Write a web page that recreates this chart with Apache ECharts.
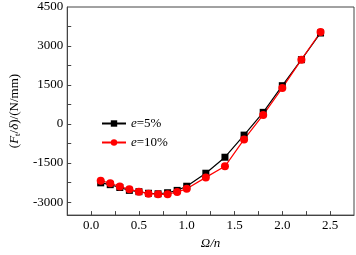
<!DOCTYPE html>
<html>
<head>
<meta charset="utf-8">
<script src="https://cdn.jsdelivr.net/npm/echarts@6/dist/echarts.min.js"></script>
<style>
  html, body { margin: 0; padding: 0; background: #fff; }
  #chart { width: 356px; height: 255px; }
</style>
</head>
<body>
<div id="chart"></div>
<script>
// Omega/n values
const xValues = [0.1, 0.2, 0.3, 0.4, 0.5, 0.6, 0.7, 0.8, 0.9, 1.0, 1.2, 1.4, 1.6, 1.8, 2.0, 2.2, 2.4];
// e = 5%
const e5 = [-2260, -2330, -2440, -2550, -2600, -2660, -2680, -2640, -2550, -2390, -1890, -1275, -425, 450, 1475, 2475, 3500];
// e = 10%
const e10 = [-2175, -2275, -2400, -2510, -2600, -2675, -2700, -2700, -2610, -2490, -2050, -1625, -590, 350, 1390, 2475, 3540];

const xLabels = [0, 0.5, 1.0, 1.5, 2.0, 2.5];
const xTicks = [0, 0.25, 0.5, 0.75, 1.0, 1.25, 1.5, 1.75, 2.0, 2.25, 2.5];
const yLabels = [-3000, -1500, 0, 1500, 3000, 4500];
const yTicks = [-3000, -2250, -1500, -750, 0, 750, 1500, 2250, 3000, 3750];

const FONT = "'Liberation Serif', 'DejaVu Serif', serif";
const axisColor = "#444";

const chart = echarts.init(document.getElementById("chart"), null, { renderer: "canvas" });

const baseX = {
  type: "value",
  position: "bottom",
  min: -0.25,
  max: 2.75,
  splitLine: { show: false },
  axisLine: { show: true, onZero: false, lineStyle: { color: axisColor, width: 1 } },
};
const baseY = {
  type: "value",
  position: "left",
  min: -3500,
  max: 4500,
  splitLine: { show: false },
  axisLine: { show: true, onZero: false, lineStyle: { color: axisColor, width: 1 } },
};

chart.setOption({
  animation: false,
  backgroundColor: "#fff",
  grid: {
    left: 57,
    right: 2,
    top: 7,
    bottom: 34,
    show: true,
    borderColor: axisColor,
    borderWidth: 1,
  },
  legend: {
    orient: "vertical",
    left: 96,
    top: 112,
    itemWidth: 24,
    itemHeight: 8,
    itemGap: 6,
    textStyle: {
      fontFamily: FONT,
      fontSize: 13,
      color: "#000",
      rich: { i: { fontFamily: FONT, fontSize: 13, fontStyle: "italic", color: "#000" } },
    },
    formatter: (name) => name.replace(/^e/, "{i|e}"),
    data: ["e=5%", "e=10%"],
  },
  xAxis: [
    {
      ...baseX,
      name: "Ω/n",
      nameLocation: "middle",
      nameGap: 19,
      nameTextStyle: { fontFamily: FONT, fontSize: 13, fontStyle: "italic", color: "#000" },
      axisTick: { show: true, inside: true, length: 4, customValues: xTicks, lineStyle: { color: axisColor } },
      axisLabel: {
        show: true,
        margin: 4,
        customValues: xLabels,
        formatter: (v) => v.toFixed(1),
        fontFamily: FONT,
        fontSize: 13,
        color: "#000",
      },
    },
  ],
  yAxis: [
    {
      ...baseY,
      name: "{p|(}{i|F}{s|t}{p|/}{i|δ}{p|)/(N/mm)}",
      nameLocation: "middle",
      nameRotate: 90,
      nameGap: 45,
      nameTextStyle: {
        fontFamily: FONT,
        fontSize: 13,
        color: "#000",
        rich: {
          p: { fontFamily: FONT, fontSize: 13, color: "#000" },
          i: { fontFamily: FONT, fontSize: 13, fontStyle: "italic", color: "#000" },
          s: { fontFamily: FONT, fontSize: 9, color: "#000", verticalAlign: "bottom", padding: [6, 0, 0, 0] },
        },
      },
      axisTick: { show: true, inside: true, length: 4, customValues: yTicks, lineStyle: { color: axisColor } },
      axisLabel: {
        show: true,
        margin: 4,
        customValues: yLabels,
        formatter: (v) => String(v),
        fontFamily: FONT,
        fontSize: 13,
        color: "#000",
      },
    },
  ],
  series: [
    {
      name: "e=5%",
      type: "line",
      data: xValues.map((x, i) => [x, e5[i]]),
      symbol: "rect",
      symbolSize: 7,
      lineStyle: { color: "#000", width: 1.2 },
      itemStyle: { color: "#000" },
    },
    {
      name: "e=10%",
      type: "line",
      data: xValues.map((x, i) => [x, e10[i]]),
      symbol: "circle",
      symbolSize: 8,
      lineStyle: { color: "#ff0000", width: 1.2 },
      itemStyle: { color: "#ff0000" },
    },
  ],
});
</script>
</body>
</html>
